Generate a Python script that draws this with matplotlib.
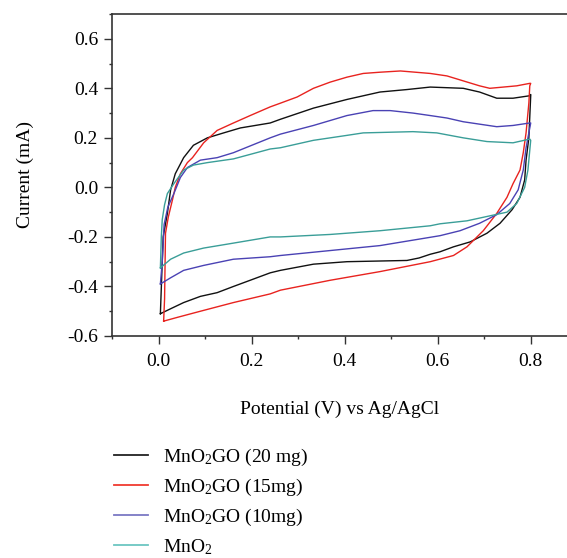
import numpy as np
import matplotlib.pyplot as plt
from matplotlib.ticker import MultipleLocator
from matplotlib.lines import Line2D

# Potential (V) and current (mA), anodic sweep then cathodic sweep
go20_v = [0.004, 0.008, 0.01, 0.019, 0.026, 0.036, 0.054, 0.075, 0.105, 0.14, 0.176, 0.24,
          0.262, 0.333, 0.405, 0.476, 0.534, 0.584, 0.655, 0.69, 0.727, 0.762, 0.798, 0.80,
          0.80, 0.796, 0.79, 0.787, 0.777, 0.76, 0.734, 0.706, 0.67, 0.634, 0.605, 0.584,
          0.56, 0.534, 0.405, 0.333, 0.262, 0.24, 0.197, 0.161, 0.126, 0.09, 0.054, 0.026,
          0.004]
go20_i = [-0.51, -0.30, -0.20, -0.105, -0.01, 0.055, 0.12, 0.17, 0.20, 0.22, 0.24, 0.26,
          0.275, 0.32, 0.355, 0.385, 0.395, 0.405, 0.40, 0.385, 0.36, 0.36, 0.37, 0.375,
          0.37, 0.20, 0.11, 0.03, -0.04, -0.09, -0.145, -0.185, -0.22, -0.24, -0.26, -0.27,
          -0.285, -0.295, -0.30, -0.31, -0.335, -0.345, -0.375, -0.40, -0.425, -0.44, -0.465,
          -0.49, -0.51]

go15_v = [0.011, 0.013, 0.015, 0.021, 0.03, 0.036, 0.047, 0.062, 0.073, 0.097, 0.126, 0.161,
          0.197, 0.24, 0.262, 0.298, 0.333, 0.369, 0.405, 0.44, 0.476, 0.52, 0.584, 0.62,
          0.655, 0.69, 0.712, 0.77, 0.798, 0.80, 0.798, 0.796, 0.79, 0.784, 0.777, 0.762,
          0.749, 0.727, 0.698, 0.663, 0.634, 0.584, 0.476, 0.369, 0.262, 0.24, 0.161, 0.09,
          0.04, 0.011]
go15_i = [-0.54, -0.45, -0.185, -0.12, -0.05, 0.0, 0.055, 0.10, 0.12, 0.18, 0.23, 0.26,
          0.29, 0.325, 0.34, 0.365, 0.40, 0.425, 0.445, 0.46, 0.465, 0.47, 0.46, 0.45,
          0.43, 0.41, 0.40, 0.41, 0.42, 0.42, 0.41, 0.34, 0.22, 0.14, 0.07, 0.015,
          -0.04, -0.105, -0.175, -0.24, -0.275, -0.30, -0.34, -0.375, -0.415, -0.43, -0.465,
          -0.50, -0.525, -0.54]

go10_v = [0.004, 0.008, 0.012, 0.02, 0.033, 0.047, 0.062, 0.09, 0.126, 0.161, 0.24, 0.262,
          0.333, 0.405, 0.461, 0.498, 0.547, 0.584, 0.62, 0.655, 0.727, 0.762, 0.798, 0.80,
          0.79, 0.784, 0.773, 0.755, 0.727, 0.69, 0.648, 0.605, 0.476, 0.369, 0.262, 0.24,
          0.161, 0.097, 0.054, 0.026, 0.004]
go10_i = [-0.39, -0.30, -0.15, -0.08, -0.025, 0.04, 0.08, 0.11, 0.12, 0.14, 0.20, 0.215,
          0.25, 0.29, 0.31, 0.31, 0.30, 0.29, 0.28, 0.265, 0.245, 0.25, 0.26, 0.26,
          0.16, 0.07, -0.01, -0.065, -0.11, -0.145, -0.175, -0.195, -0.235, -0.255, -0.275,
          -0.28, -0.29, -0.315, -0.335, -0.365, -0.39]

mno2_v = [0.004, 0.006, 0.008, 0.013, 0.019, 0.033, 0.054, 0.075, 0.105, 0.161, 0.24, 0.262,
          0.333, 0.405, 0.44, 0.547, 0.598, 0.655, 0.706, 0.762, 0.798, 0.80, 0.794, 0.787,
          0.77, 0.749, 0.712, 0.663, 0.605, 0.584, 0.476, 0.369, 0.262, 0.24, 0.161, 0.097,
          0.054, 0.026, 0.004]
mno2_i = [-0.325, -0.20, -0.13, -0.07, -0.025, 0.015, 0.07, 0.09, 0.10, 0.115, 0.155, 0.16,
          0.19, 0.21, 0.22, 0.225, 0.22, 0.20, 0.185, 0.18, 0.195, 0.19, 0.07, 0.0,
          -0.065, -0.10, -0.115, -0.135, -0.147, -0.155, -0.175, -0.19, -0.20, -0.20, -0.225,
          -0.245, -0.265, -0.29, -0.325]

labels = ['MnO$_2$GO (20 mg)', 'MnO$_2$GO (15mg)', 'MnO$_2$GO (10mg)', 'MnO$_2$']
colors = ['#111111', '#e8231f', '#4a42b4', '#3a9e98']
legend_colors = ['#222222', '#f03a30', '#7b78c4', '#6cc6c2']

plt.rcParams['font.family'] = ['Liberation Serif', 'DejaVu Serif']
plt.rcParams['mathtext.fontset'] = 'custom'
plt.rcParams['mathtext.rm'] = 'Liberation Serif'
plt.rcParams['mathtext.it'] = 'Liberation Serif'
plt.rcParams['font.size'] = 14

fig = plt.figure(figsize=(5.67, 5.58), dpi=100)
ax = fig.add_axes([112 / 567, 1 - 336 / 558, 1 - 112 / 567, 322 / 558])

series = [(go20_v, go20_i), (go15_v, go15_i), (go10_v, go10_i), (mno2_v, mno2_i)]
for (v, i), c in zip(series, colors):
    ax.plot(v, i, color=c, lw=1.0)

ax.set_xlim(-0.1, 0.878)
ax.set_ylim(-0.6, 0.7)
ax.xaxis.set_minor_locator(MultipleLocator(0.1))
ax.yaxis.set_minor_locator(MultipleLocator(0.1))
ax.set_xticks([0.0, 0.2, 0.4, 0.6, 0.8])
ax.set_xticklabels(['0.0', '0.2', '0.4', '0.6', '0.8'])
ax.set_yticks([-0.6, -0.4, -0.2, 0.0, 0.2, 0.4, 0.6])
ax.set_yticklabels(['-0.6', '-0.4', '-0.2', '0.0', '0.2', '0.4', '0.6'])
ax.tick_params(which='major', direction='out', length=6, width=1, color='#333333', pad=4)
ax.tick_params(axis='x', which='major', pad=6)
ax.tick_params(which='minor', direction='out', length=2.5, width=1, color='#333333')
for s in ['left', 'bottom', 'top']:
    ax.spines[s].set_color('#333333')
    ax.spines[s].set_linewidth(1.2)
ax.spines['right'].set_visible(False)

ax.set_xlabel('Potential (V) vs Ag/AgCl')
ax.xaxis.set_label_coords(0.5, -0.2)
ax.set_ylabel('Current (mA)')
ax.yaxis.set_label_coords(-0.172, 0.5)

handles = [Line2D([], [], color=c, lw=1.3) for c in legend_colors]
fig.legend(handles, labels, loc='upper left', bbox_to_anchor=(114 / 567, 1 - 447 / 558),
           frameon=False, handlelength=1.75, handletextpad=0.75, labelspacing=0.46,
           borderaxespad=0, borderpad=0)

fig.savefig('out.png', dpi=100)
